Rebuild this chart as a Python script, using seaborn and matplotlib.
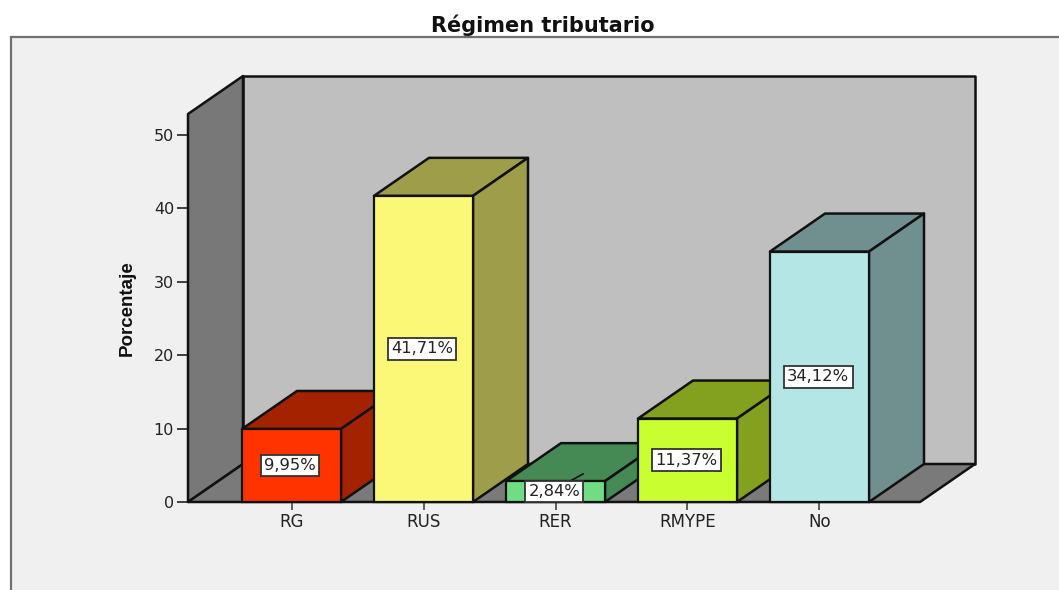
import pandas as pd
import seaborn as sns
import matplotlib
matplotlib.use("Agg")
import matplotlib.pyplot as plt
from matplotlib.patches import Polygon, Rectangle

categorias = ["RG", "RUS", "RER", "RMYPE", "No"]
porcentajes = [9.95, 41.71, 2.84, 11.37, 34.12]
etiquetas = ["9,95%", "41,71%", "2,84%", "11,37%", "34,12%"]
ticks_y = [0, 10, 20, 30, 40, 50]

color_frente = ["#ff3300", "#fbf877", "#70dd85", "#c9ff30", "#b5e6e6"]
color_lado = ["#a32200", "#9e9d4a", "#458a55", "#84a01f", "#70908f"]

W, H = 1059, 590
COLOR_PANEL = "#f0f0f0"
COLOR_TEXTO = "#222222"

# escala del grafico en pixeles: 132 px por categoria, 7.34 px por punto porcentual
PX_X = 132.0
PX_Y = 7.34
X0_PX, Y0_PX = 291.5, 502
IZQ_PX, DER_PX, TOP_PX = 188, 920, 114
DX = 55 / PX_X   # profundidad 3D
DY = 38 / PX_Y
ANCHO = 0.75

sns.set_theme(style="white")
plt.rcParams["font.family"] = ["DejaVu Sans"]

fig = plt.figure(figsize=(W / 100, H / 100), dpi=100, facecolor="white")

# panel de fondo, se sale por la derecha y por abajo
fig.add_artist(Rectangle((11 / W, 0 - 0.05), 1.1, 1.05 - 37 / H, transform=fig.transFigure,
                         facecolor=COLOR_PANEL, edgecolor="#707070", linewidth=1.6, zorder=-1))

ax = fig.add_axes([IZQ_PX / W, 1 - Y0_PX / H, (DER_PX - IZQ_PX) / W, (Y0_PX - TOP_PX) / H])
ax.patch.set_visible(False)

df = pd.DataFrame({"categoria": categorias, "porcentaje": porcentajes})
sns.barplot(data=df, x="categoria", y="porcentaje", hue="categoria", palette=color_frente,
            width=ANCHO, edgecolor="#111111", linewidth=1.6, legend=False, saturation=1, ax=ax)

x_min = (IZQ_PX - X0_PX) / PX_X
x_max = (DER_PX - X0_PX) / PX_X
y_max = (Y0_PX - TOP_PX) / PX_Y
ax.set_xlim(x_min, x_max)
ax.set_ylim(0, y_max)


def poligono(puntos, color, z):
    ax.add_patch(Polygon(puntos, closed=True, facecolor=color, edgecolor="#111111",
                         linewidth=1.8, clip_on=False, zorder=z, joinstyle="round"))


# paredes y piso
poligono([(x_min + DX, DY), (x_max + DX, DY), (x_max + DX, y_max + DY), (x_min + DX, y_max + DY)], "#bfbfbf", 1)
poligono([(x_min, 0), (x_min + DX, DY), (x_min + DX, y_max + DY), (x_min, y_max)], "#787878", 1.1)
poligono([(x_min, 0), (x_max, 0), (x_max + DX, DY), (x_min + DX, DY)], "#7a7a7a", 1.2)

# caras 3D de cada barra, la siguiente tapa a la anterior
for i, (barra, valor) in enumerate(zip(ax.patches, porcentajes)):
    z = 3 + i
    izq = i - ANCHO / 2
    der = i + ANCHO / 2
    poligono([(izq, valor), (der, valor), (der + DX, valor + DY), (izq + DX, valor + DY)], color_lado[i], z)
    poligono([(der, 0), (der + DX, DY), (der + DX, valor + DY), (der, valor)], color_lado[i], z)
    barra.set_zorder(z + 0.5)
    barra.set_clip_on(False)

# rayita que sale de la etiqueta de RER
ax.plot([2 + 0.11, 2 + 0.21], [porcentajes[2], porcentajes[2] + 1], color="#111111", lw=1.2, zorder=5.6)

for i, (valor, texto) in enumerate(zip(porcentajes, etiquetas)):
    ax.text(i - 0.01, valor / 2, texto, ha="center", va="center", fontsize=11.8, color=COLOR_TEXTO, zorder=20,
            bbox=dict(boxstyle="square,pad=0.2", facecolor="white", edgecolor="#333333", linewidth=1.3))

sns.despine(ax=ax, left=True, bottom=True, top=True, right=True)
ax.set_xlabel("")
ax.set_ylabel("")
ax.set_yticks(ticks_y)
ax.set_xticks(range(len(categorias)))
ax.set_xticklabels(categorias)
ax.tick_params(axis="y", left=True, length=8, width=1.2, color="#222222", labelsize=11.5, labelcolor=COLOR_TEXTO, pad=2)
ax.tick_params(axis="x", bottom=True, length=6, width=1.2, color="#444444", labelsize=12, labelcolor=COLOR_TEXTO, pad=2)

fig.text(543 / W, 1 - 25 / H, "Régimen tributario", ha="center", va="center",
         fontsize=15, fontweight="bold", color="#111111")
fig.text(127 / W, 1 - 308 / H, "Porcentaje", rotation=90, ha="center", va="center",
         fontsize=13.5, fontweight="bold", color="#111111", family="Liberation Sans")

fig.savefig("out.png", dpi=100)
